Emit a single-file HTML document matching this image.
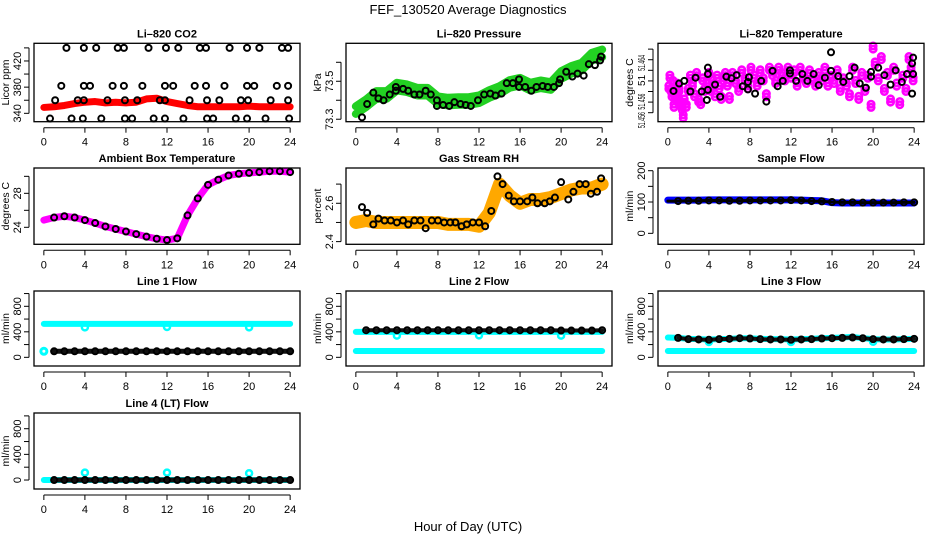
<!DOCTYPE html>
<html><head><meta charset="utf-8">
<style>
html,body{margin:0;padding:0;background:#fff;}
svg{display:block;font-family:"Liberation Sans",sans-serif;}
</style></head>
<body>
<svg id="chart" width="936" height="540" viewBox="0 0 936 540" xmlns="http://www.w3.org/2000/svg">
<rect x="0" y="0" width="936" height="540" fill="#fff"/>
<text x="468" y="14" text-anchor="middle" font-size="13">FEF_130520  Average Diagnostics</text>
<text x="468" y="531" text-anchor="middle" font-size="13">Hour of Day (UTC)</text>
</svg>
<script>
// ---------- data ----------
const hourly=[0,1,2,3,4,5,6,7,8,9,10,11,12,13,14,15,16,17,18,19,20,21,22,23,24];
const xTicks=[0,4,8,12,16,20,24];

const co2Band=[349,350,352,355,357,358,356,357,356,357,362,363,358,355,352,350,350,350,350,350,351,350,350,350,350];
const co2PtHours=[2.2,3.9,5.1,7.2,7.8,10.2,11.9,13.1,15.2,15.8,18.1,19.8,21.0,23.2,23.8,
1.7,3.9,4.5,6.7,7.8,9.6,11.8,12.6,14.7,15.8,17.6,19.8,20.5,22.7,23.8,
1.1,3.3,3.9,6.2,7.9,9.1,11.3,11.8,14.2,15.9,17.1,19.2,19.9,22.1,23.8,
0.6,2.7,3.8,5.6,7.9,8.6,10.7,11.8,13.6,15.9,16.5,18.7,19.8,21.6,23.9];
const co2PtVals=[440,440,440,440,440,440,440,440,440,440,440,440,440,440,440,
382,382,382,382,382,382,382,382,382,382,382,382,382,382,382,
360,360,360,360,360,360,360,360,360,360,360,360,360,360,360,
332,332,332,332,332,332,332,332,332,332,332,332,332,332,332];

const presBand=[73.348,73.384,73.428,73.428,73.472,73.463,73.445,73.445,73.40,73.393,73.396,73.396,73.405,73.433,73.454,73.486,73.498,73.472,73.484,73.475,73.533,73.56,73.577,73.63,73.647];
const presPtHours=[0.6,1.1,1.7,2.2,2.7,3.3,3.9,3.9,4.6,5.1,5.7,6.2,6.8,7.3,7.9,7.9,8.5,9.1,9.6,10.2,10.7,11.2,11.9,12.5,13.1,13.6,14.2,14.7,15.3,15.9,15.9,16.5,17.1,17.6,18.2,18.7,19.3,19.8,19.9,20.5,21.1,21.6,22.2,22.7,23.3,23.8,23.9];
const presPtVals=[73.31,73.38,73.44,73.41,73.40,73.43,73.47,73.45,73.46,73.45,73.43,73.43,73.45,73.43,73.40,73.37,73.375,73.37,73.39,73.38,73.375,73.37,73.40,73.43,73.435,73.425,73.435,73.49,73.49,73.51,73.47,73.47,73.45,73.47,73.475,73.47,73.47,73.49,73.51,73.55,73.525,73.54,73.53,73.59,73.585,73.61,73.63];

const ltempPtHours=[0.55,1.1,1.6,2.2,2.7,3.3,3.9,3.9,3.9,3.8,4.6,5.1,5.7,6.2,6.7,7.3,7.8,7.9,7.8,8.5,9.1,9.6,10.2,10.7,11.2,11.9,11.9,12.5,13.1,13.6,14.2,14.7,15.3,15.9,15.9,16.6,17.1,17.7,18.2,18.7,19.3,19.8,19.8,20.5,21.1,21.7,22.2,22.8,23.3,23.8,23.9,23.9,23.8];
const ltempPtVals=[51.4561,51.4575,51.4580,51.4560,51.4586,51.4560,51.4605,51.4593,51.4563,51.4544,51.4573,51.4550,51.4588,51.4585,51.4591,51.4570,51.4578,51.4587,51.4564,51.4556,51.4580,51.4541,51.4599,51.4570,51.4580,51.4600,51.4594,51.4580,51.4593,51.4580,51.4593,51.4572,51.4586,51.4599,51.4634,51.4589,51.4578,51.4589,51.4605,51.4575,51.4567,51.4588,51.4597,51.4605,51.4591,51.4573,51.4600,51.4578,51.4593,51.4613,51.4624,51.4593,51.4556];
const ltempMagHours=[0.1,0.2,0.3,0.4,0.5,0.6,0.7,0.8,0.9,1.0,1.1,1.3,1.4,1.5,1.6,1.8,2.0,2.2,2.4,2.6,2.8,3.0,3.2,3.4,3.6,3.8,4.0,4.2,4.4,4.6,4.8,5.0,5.2,5.4,5.6,5.8,6.0,6.3,6.6,6.9,7.2,7.5,7.8,8.1,8.4,8.7,9.0,9.3,9.6,9.9,10.2,10.5,10.8,11.1,11.4,11.7,12.0,12.3,12.6,12.9,13.2,13.5,13.8,14.1,14.4,14.7,15.0,15.3,15.6,15.9,16.2,16.5,16.8,17.1,17.4,17.7,18.0,18.3,18.6,18.9,19.2,19.5,19.8,20.0,20.2,20.5,20.8,21.1,21.4,21.7,22.0,22.3,22.6,22.9,23.2,23.5,23.7,23.9];
const ltempMagVals=[51.4565,51.4585,51.4560,51.4550,51.4575,51.4530,51.4545,51.4555,51.4570,51.4550,51.4560,51.4535,51.4525,51.4510,51.4540,51.4530,51.4560,51.4585,51.4570,51.4550,51.4590,51.4540,51.4535,51.4580,51.4560,51.4575,51.4590,51.4560,51.4575,51.4550,51.4585,51.4565,51.4545,51.4580,51.4590,51.4570,51.4545,51.4590,51.4575,51.4560,51.4595,51.4580,51.4565,51.4600,51.4585,51.4570,51.4595,51.4580,51.4550,51.4600,51.4590,51.4575,51.4600,51.4590,51.4580,51.4600,51.4585,51.4595,51.4570,51.4600,51.4585,51.4575,51.4595,51.4580,51.4570,51.4590,51.4580,51.4600,51.4570,51.4585,51.4575,51.4595,51.4560,51.4580,51.4570,51.4550,51.4600,51.4575,51.4545,51.4590,51.4560,51.4585,51.4530,51.4640,51.4610,51.4580,51.4620,51.4560,51.4590,51.4540,51.4600,51.4570,51.4535,51.4585,51.4560,51.4620,51.4600,51.4580];

const ambVals=[24.85,25.15,25.3,25.15,24.85,24.5,24.1,23.8,23.5,23.2,22.9,22.65,22.5,22.7,25.4,27.4,29.0,29.6,30.1,30.3,30.4,30.5,30.6,30.6,30.5];

const rhBand=[2.50,2.51,2.50,2.50,2.50,2.50,2.50,2.50,2.50,2.49,2.49,2.49,2.48,2.55,2.70,2.64,2.60,2.62,2.62,2.63,2.65,2.67,2.68,2.68,2.70];
const rhPtHours=[0.6,1.1,1.7,2.2,2.8,3.4,4.0,4.6,5.1,5.7,6.3,6.8,7.4,8.0,8.6,9.2,9.7,10.3,10.8,11.4,12.0,12.6,13.2,13.8,14.3,14.9,15.4,16.0,16.7,17.2,17.7,18.4,18.9,19.4,20.0,20.7,21.2,21.8,22.4,22.9,23.5,23.9];
const rhPtVals=[2.58,2.55,2.49,2.52,2.51,2.51,2.50,2.51,2.49,2.51,2.51,2.47,2.51,2.51,2.50,2.50,2.50,2.48,2.49,2.50,2.50,2.48,2.56,2.74,2.70,2.64,2.61,2.61,2.61,2.63,2.60,2.60,2.61,2.63,2.71,2.62,2.66,2.70,2.70,2.65,2.66,2.73];

const sampBand=[106,106,106,106,107,107,107,107,107,107,107,107,107,106,105,104,98,97,97,97,97,97,97,97,97];
const sampPt=[103,103,104,104,105,105,104,104,105,105,105,105,106,105,103,102,100,99,99,98,98,98,98,99,99];

const l1Cyan=[525,525,525,525,525,525,525,525,525,525,525,525,525,525,525,525,525,525,525,525,525,525,525,525,525];
const l1Black=[95,95,95,95,95,95,95,95,95,95,95,95,95,95,95,95,95,95,95,95,95,95,95,95,95];
const l1DipHours=[4,12,20];
const l1DipVals=[470,475,470];

const l2CyanLow=[100,100,100,100,100,100,100,100,100,100,100,100,100,100,100,100,100,100,100,100,100,100,100,100,100];
const l2CyanHigh=[400,400,400,400,400,400,400,400,400,400,400,400,400,400,400,400,400,400,400,400,400,400,400,400,400];
const l2Black=[425,425,425,425,425,425,425,425,425,425,425,425,425,425,425,425,425,425,425,425,420,420,420,420,425];
const l2DipHours=[4,12,20];
const l2DipVals=[340,345,340];

const l3CyanLow=[100,100,100,100,100,100,100,100,100,100,100,100,100,100,100,100,100,100,100,100,100,100,100,100,100];
const l3CyanHigh=[310,305,290,285,280,285,290,300,300,290,285,285,280,285,290,300,305,310,320,300,285,280,280,285,290];
const l3Black=[320,305,285,280,275,285,290,300,295,285,280,280,275,280,285,295,300,305,310,300,285,280,280,285,290];
const l3DipHours=[4,12,20];
const l3DipVals=[240,240,245];

const l4Cyan=[0,0,0,0,0,0,0,0,0,0,0,0,0,0,0,0,0,0,0,0,0,0,0,0,0];
const l4Black=[0,0,0,0,0,0,0,0,0,0,0,0,0,0,0,0,0,0,0,0,0,0,0,0,0];
const l4BumpHours=[4,12,20];
const l4BumpVals=[115,115,105];

// ---------- drawing ----------
const svg=document.getElementById('chart');
const NS='http://www.w3.org/2000/svg';
const colX=[34,346,658], W=266;
const rowY=[43.3,168,291,413], rowH=[78.4,76.3,75,76];

function mk(tag,attrs,parent,name){
  const el=document.createElementNS(NS,tag);
  for(const k in attrs) el.setAttribute(k,attrs[k]);
  
  
  (parent||svg).appendChild(el);
  return el;
}

function panel(key,col,row,title,ylab,ylim,ticks,labels,lfs,llen){
  const g=mk('g',{},svg,key+'-panel');
  const x0=colX[col], y0=rowY[row], h=rowH[row];
  const p={g,x0,y0,h,
    sx:v=>x0+(v+0.96)/25.92*W,
    sy:v=>y0+h-(v-ylim[0])/(ylim[1]-ylim[0])*h};
  const data=mk('g',{},g,key+'-plot-area');
  p.data=data;
  mk('rect',{x:x0,y:y0,width:W,height:h,fill:'none',stroke:'#000','stroke-width':1.3},g,key+'-plot-frame');
  mk('text',{x:x0+W/2,y:y0-6,'text-anchor':'middle','font-size':11,'font-weight':'bold'},g,key+'-title').textContent=title;
  const xa=mk('g',{},g,key+'-x-axis');
  const yb=y0+h;
  mk('line',{x1:p.sx(0),x2:p.sx(24),y1:yb+6,y2:yb+6,stroke:'#000'},xa,'x-axis-line');
  xTicks.forEach(t=>{
    mk('line',{x1:p.sx(t),x2:p.sx(t),y1:yb+6,y2:yb+11,stroke:'#000'},xa,'x-tick');
    mk('text',{x:p.sx(t),y:yb+24,'text-anchor':'middle','font-size':11},xa,'x-tick-label').textContent=t;
  });
  const ya=mk('g',{},g,key+'-y-axis');
  mk('line',{x1:x0-5,x2:x0-5,y1:p.sy(ticks[0]),y2:p.sy(ticks[ticks.length-1]),stroke:'#000'},ya,'y-axis-line');
  ticks.forEach(t=>{
    mk('line',{x1:x0-10,x2:x0-5,y1:p.sy(t),y2:p.sy(t),stroke:'#000'},ya,'y-tick');
  });
  labels.forEach(l=>{
    const yy=p.sy(l[0]);
    const at={x:x0-13,y:yy,'text-anchor':'middle','font-size':lfs||11,transform:`rotate(-90 ${x0-13} ${yy})`};
    if(llen && l[1].length>2){at.textLength=llen;at.lengthAdjust='spacingAndGlyphs';}
    const tx=mk('text',at,ya,'y-tick-label');
    tx.textContent=l[1];
  });
  const ym=y0+h/2;
  mk('text',{x:x0-25,y:ym,'text-anchor':'middle','font-size':10.5,transform:`rotate(-90 ${x0-25} ${ym})`},ya,key+'-y-axis-title').textContent=ylab;
  return p;
}

function band(p,hs,vs,color,w,name){
  const pts=hs.map((hh,i)=>p.sx(hh)+','+p.sy(vs[i])).join(' ');
  mk('polyline',{points:pts,fill:'none',stroke:color,'stroke-width':w,'stroke-linejoin':'round','stroke-linecap':'round'},p.data,name);
}
function dots(p,hs,vs,color,r,sw,name,fill){
  hs.forEach((hh,i)=>{
    mk('circle',{cx:p.sx(hh),cy:p.sy(vs[i]),r:r,fill:fill||'none',stroke:color,'stroke-width':sw},p.data,name);
  });
}
const shift=(a,d)=>a.map(v=>v+d);

let p=panel('co2',0,0,'Li\u2013820 CO2','Licor ppm',[327.2,447],[340,360,380,400,420,440],[[340,'340'],[380,'380'],[420,'420']]);
band(p,hourly,co2Band,'#ff0000',7,'co2-red-band');
dots(p,co2PtHours,co2PtVals,'#000',3,2,'co2-point');

p=panel('pressure',1,0,'Li\u2013820 Pressure','kPa',[73.287,73.70],[73.3,73.4,73.5,73.6],[[73.3,'73.3'],[73.5,'73.5']]);
band(p,hourly,shift(presBand,0.02),'#22d022',8,'pressure-green-band-upper');
band(p,hourly,shift(presBand,-0.02),'#22d022',8,'pressure-green-band-lower');
dots(p,presPtHours,presPtVals,'#000',3,2,'pressure-point');

p=panel('ltemp',2,0,'Li\u2013820 Temperature','degrees C',[51.4503,51.4651],[51.452,51.454,51.456,51.458,51.460,51.462,51.464],[[51.4614,'51.464'],[51.4581,'51'],[51.4541,'51.456'],[51.4506,'51.456']],10,16);
dots(p,ltempMagHours,ltempMagVals,'#ff00ff',3.2,2.6,'ltemp-magenta-point');
dots(p,ltempMagHours,shift(ltempMagVals,0.0006),'#ff00ff',3.2,2.6,'ltemp-magenta-point');
dots(p,ltempPtHours,ltempPtVals,'#000',3,2,'ltemp-point');

p=panel('ambient',0,1,'Ambient Box Temperature','degrees C',[22.0,30.98],[24,26,28,30],[[24,'24'],[28,'28']]);
band(p,hourly,ambVals,'#ff00ff',7,'ambient-magenta-line');
dots(p,hourly.slice(1),ambVals.slice(1),'#000',3,2,'ambient-point');

p=panel('rh',1,1,'Gas Stream RH','percent',[2.386,2.784],[2.4,2.5,2.6,2.7],[[2.4,'2.4'],[2.6,'2.6']]);
band(p,hourly,rhBand,'#ffa800',13,'rh-orange-band');
dots(p,rhPtHours,rhPtVals,'#000',3,2,'rh-point');

p=panel('sample',2,1,'Sample Flow','ml/min',[-35,208.6],[0,50,100,150,200],[[0,'0'],[100,'100'],[200,'200']]);
band(p,hourly,sampBand,'#0000ff',7,'sample-blue-band');
band(p,hourly,sampPt,'#000',3,'sample-black-line');
dots(p,hourly.slice(1),sampPt.slice(1),'#000',3,2,'sample-point');

const fT=[0,200,400,600,800,1000], fL=[[0,'0'],[400,'400'],[800,'800']];
p=panel('line1',0,2,'Line 1 Flow','ml/min',[-136,1040],fT,fL);
band(p,hourly,l1Cyan,'#00ffff',6,'line1-cyan-band');
dots(p,l1DipHours,l1DipVals,'#00ffff',3,2.5,'line1-cyan-dip');
dots(p,[0],[95],'#00ffff',3,3,'line1-cyan-start');
band(p,hourly.slice(1),l1Black.slice(1),'#111',5,'line1-black-line');
dots(p,hourly.slice(1),l1Black.slice(1),'#000',3,2,'line1-point');

p=panel('line2',1,2,'Line 2 Flow','ml/min',[-136,1040],fT,fL);
band(p,hourly,l2CyanLow,'#00ffff',6,'line2-cyan-band-low');
band(p,hourly,l2CyanHigh,'#00ffff',6,'line2-cyan-band-high');
dots(p,l2DipHours,l2DipVals,'#00ffff',3,2.5,'line2-cyan-dip');
band(p,hourly.slice(1),l2Black.slice(1),'#111',4,'line2-black-line');
dots(p,hourly.slice(1),l2Black.slice(1),'#000',3,2,'line2-point');

p=panel('line3',2,2,'Line 3 Flow','ml/min',[-136,1040],fT,fL);
band(p,hourly,l3CyanLow,'#00ffff',6,'line3-cyan-band-low');
band(p,hourly,l3CyanHigh,'#00ffff',6,'line3-cyan-band-high');
dots(p,l3DipHours,l3DipVals,'#00ffff',3,2.5,'line3-cyan-dip');
band(p,hourly.slice(1),l3Black.slice(1),'#111',4,'line3-black-line');
dots(p,hourly.slice(1),l3Black.slice(1),'#000',3,2,'line3-point');

p=panel('line4',0,3,'Line 4 (LT) Flow','ml/min',[-140,1045],fT,fL);
band(p,hourly,l4Cyan,'#00ffff',6,'line4-cyan-band');
dots(p,l4BumpHours,l4BumpVals,'#00ffff',3,2.5,'line4-cyan-bump');
band(p,hourly.slice(1),l4Black.slice(1),'#111',5,'line4-black-line');
dots(p,hourly.slice(1),l4Black.slice(1),'#000',3,2,'line4-point');
</script>
</body></html>
